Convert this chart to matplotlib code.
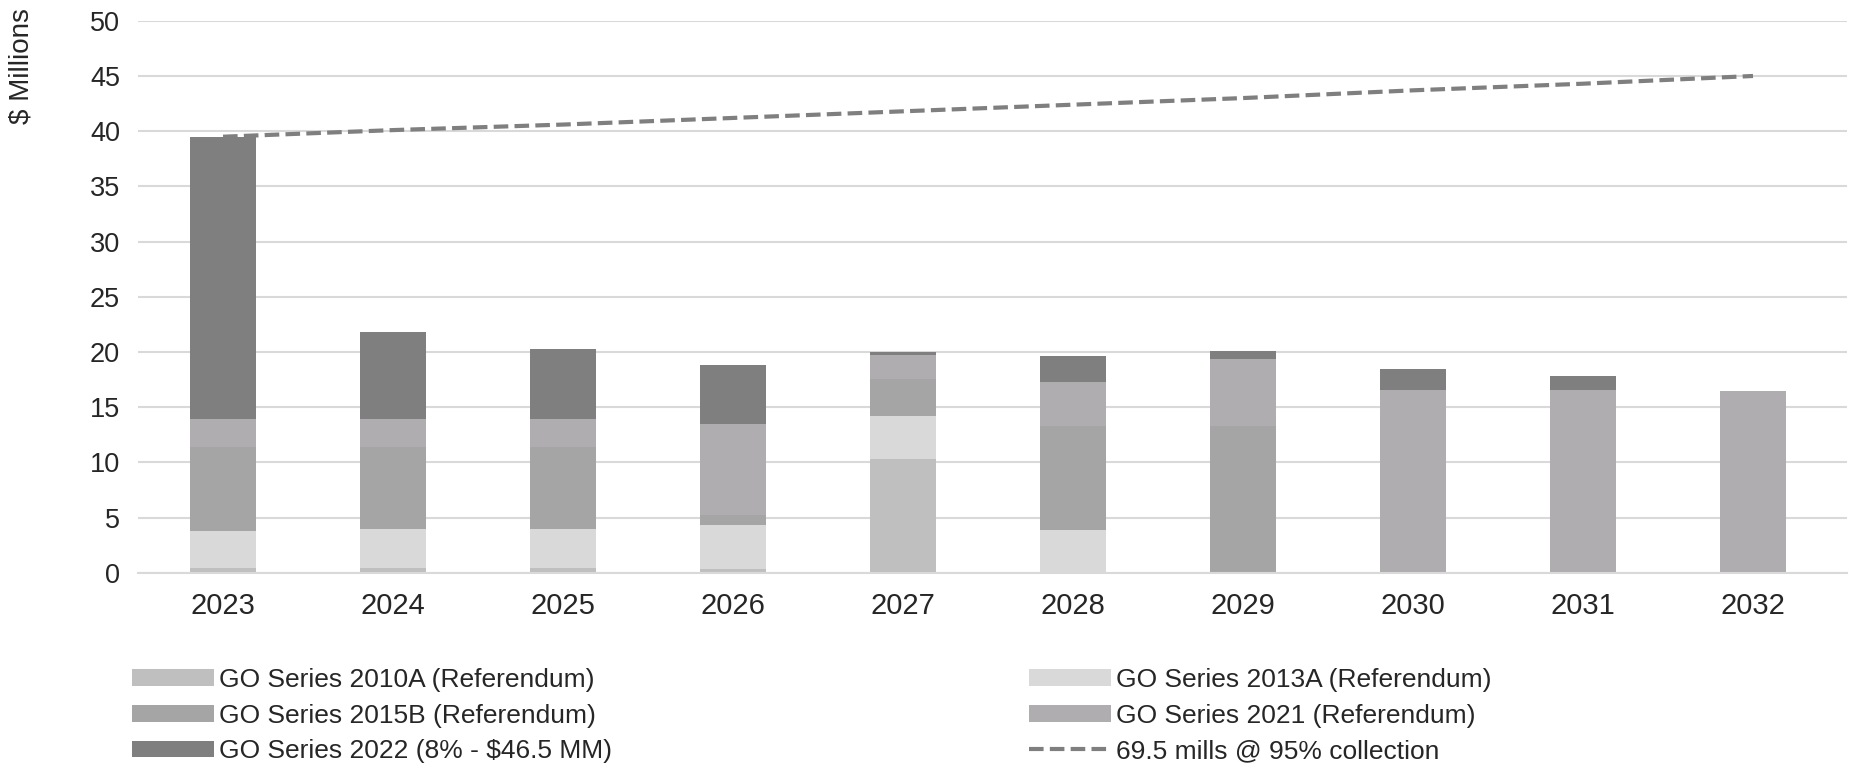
import matplotlib
matplotlib.use("Agg")
import matplotlib.pyplot as plt
import numpy as np

plt.rcParams["font.family"] = ["Liberation Sans", "DejaVu Sans"]

years = ["2023", "2024", "2025", "2026", "2027", "2028", "2029", "2030", "2031", "2032"]

# debt service by series, $ millions (stacked bottom -> top)
go_2010a = [0.4, 0.4, 0.4, 0.35, 10.3, 0.0, 0.0, 0.0, 0.0, 0.0]
go_2013a = [3.4, 3.6, 3.6, 3.95, 3.9, 3.9, 0.0, 0.0, 0.0, 0.0]
go_2015b = [7.6, 7.4, 7.4, 0.9, 3.4, 9.4, 13.3, 0.0, 0.0, 0.0]
go_2021 = [2.5, 2.5, 2.5, 8.3, 2.1, 4.0, 6.1, 16.55, 16.6, 16.5]
go_2022 = [25.6, 7.9, 6.4, 5.3, 0.3, 2.3, 0.7, 1.9, 1.25, 0.0]

# levy capacity line
capacity = [39.5, 40.1, 40.6, 41.2, 41.8, 42.4, 43.0, 43.7, 44.3, 45.0]

series = [
    ("GO Series 2010A (Referendum)", go_2010a, "#bfbfbf"),
    ("GO Series 2013A (Referendum)", go_2013a, "#d9d9d9"),
    ("GO Series 2015B (Referendum)", go_2015b, "#a5a5a5"),
    ("GO Series 2021 (Referendum)", go_2021, "#afadb0"),
    ("GO Series 2022 (8% - $46.5 MM)", go_2022, "#7f7f7f"),
]

fig = plt.figure(figsize=(18.53, 7.69), dpi=100)
ax = fig.add_axes([0.0745, 0.255, 0.922, 0.718])

x = np.arange(len(years))
bottom = np.zeros(len(years))
handles = {}
for label, vals, color in series:
    b = ax.bar(x, vals, 0.39, bottom=bottom, color=color, label=label, zorder=2)
    handles[label] = b
    bottom += np.array(vals)

line, = ax.plot(x, capacity, color="#7f7f7f", lw=3, ls=(0, (3.5, 1.5)),
                label="69.5 mills @ 95% collection", zorder=3)

ax.set_xlim(-0.5, 9.55)
ax.set_ylim(0, 50)
ax.set_yticks(range(0, 51, 5))
ax.set_xticks(x)
ax.set_xticklabels(years, fontsize=21, color="#262626")
ax.tick_params(axis="y", labelsize=19.5, colors="#262626", length=0, pad=13)
ax.tick_params(axis="x", length=0, pad=14)
ax.grid(axis="y", color="#d9d9d9", lw=1.5, zorder=0)
ax.set_axisbelow(True)
for s in ["top", "right", "left"]:
    ax.spines[s].set_visible(False)
ax.spines["bottom"].set_color("#d9d9d9")
ax.spines["bottom"].set_linewidth(1.5)

fig.text(0.0115, 0.99, "$ Millions", rotation=90, ha="center", va="top",
         fontsize=20, color="#262626")

labs = [s[0] for s in series]
order = [labs[0], labs[2], labs[4], labs[1], labs[3]]
h = [handles[l] for l in order] + [line]
l = order + [line.get_label()]
fig.legend(h, l, loc="upper left", bbox_to_anchor=(0.0655, 0.145), ncol=2,
           frameon=False, fontsize=19, handlelength=3.1, handleheight=0.6,
           handletextpad=0.2, columnspacing=15.8, labelspacing=0.44,
           borderaxespad=0, labelcolor="#262626")

fig.savefig("out.png", dpi=100)
